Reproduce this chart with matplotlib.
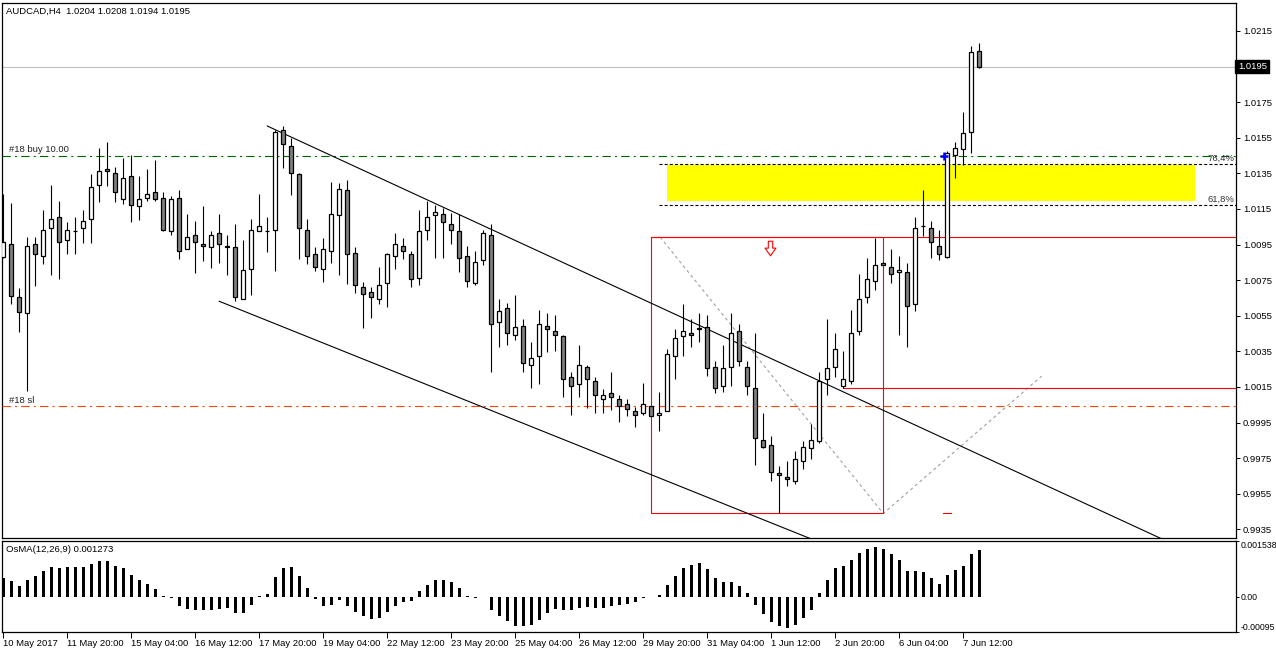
import numpy as np
import matplotlib
matplotlib.use("Agg")
import matplotlib.pyplot as plt
from matplotlib.patches import Rectangle
from matplotlib.path import Path
from matplotlib.transforms import blended_transform_factory

# ---- AUDCAD H4 candles (bar 0 = left edge) ----
OPEN = [1.00879, 1.00952, 1.00654, 1.00565, 1.00952, 1.00885, 1.01042, 1.01104, 1.00975, 1.01024,
        1.01042, 1.01093, 1.01284, 1.01374, 1.01352, 1.01206, 1.01335, 1.01166, 1.01211, 1.01245,
        1.01211, 1.01026, 1.01211, 1.00924, 1.01003, 1.00952, 1.00936, 1.01014, 1.00941, 1.00936,
        1.00643, 1.00812, 1.01026, 1.01026, 1.01031, 1.01593, 1.01504, 1.01346, 1.01031, 1.00896,
        1.00812, 1.00913, 1.01116, 1.01256, 1.00902, 1.00711, 1.00683, 1.00643, 1.00733, 1.00885,
        1.00941, 1.00896, 1.00761, 1.01031, 1.01116, 1.01121, 1.01065, 1.01026, 1.00885, 1.00733,
        1.00863, 1.01003, 1.00514, 1.00593, 1.00441, 1.00492, 1.00272, 1.00323, 1.00492, 1.00463,
        1.00435, 1.00205, 1.00165, 1.00261, 1.00182, 1.00081, 1.00115, 1.00081, 1.00053, 1.00014,
        1.00002, 1.00042, 0.99991, 1.00014, 1.00323, 1.00435, 1.00452, 1.00480, 1.00486, 1.00261,
        1.00154, 1.00261, 1.00463, 1.00261, 1.00143, 0.99851, 0.99822, 0.99665, 0.99643, 0.99620,
        0.99733, 0.99806, 0.99845, 1.00193, 1.00261, 1.00154, 1.00182, 1.00463, 1.00654, 1.00745,
        1.00846, 1.00823, 1.00795, 1.00795, 1.00615, 1.01054, 1.01042, 1.00941, 1.00879, 1.01453,
        1.01487, 1.01582, 1.02040]
HIGH = [1.01234, 1.01183, 1.00705, 1.00992, 1.00992, 1.01144, 1.01284, 1.01194, 1.01076, 1.01104,
        1.01144, 1.01346, 1.01492, 1.01526, 1.01385, 1.01436, 1.01453, 1.01335, 1.01374, 1.01425,
        1.01245, 1.01222, 1.01256, 1.01121, 1.01082, 1.01166, 1.01026, 1.01121, 1.01003, 1.01065,
        1.00975, 1.01093, 1.01234, 1.01104, 1.01593, 1.01616, 1.01548, 1.01352, 1.01093, 1.00936,
        1.00986, 1.01301, 1.01296, 1.01312, 1.00936, 1.00739, 1.00711, 1.00823, 1.00902, 1.01014,
        1.00986, 1.00913, 1.01144, 1.01194, 1.01172, 1.01155, 1.01127, 1.01121, 1.00941, 1.00913,
        1.01031, 1.01065, 1.00643, 1.00621, 1.00666, 1.00531, 1.00402, 1.00582, 1.00565, 1.00553,
        1.00441, 1.00233, 1.00385, 1.00272, 1.00205, 1.00137, 1.00233, 1.00104, 1.00081, 1.00036,
        1.00171, 1.00045, 1.00121, 1.00362, 1.00475, 1.00615, 1.00531, 1.00565, 1.00553, 1.00295,
        1.00385, 1.00565, 1.00503, 1.00295, 1.00452, 1.00002, 0.99873, 0.99704, 0.99733, 0.99789,
        0.99845, 0.99941, 1.00233, 1.00531, 1.00452, 1.00351, 1.00582, 1.00784, 1.00874, 1.00986,
        1.00850, 1.00924, 1.00885, 1.00846, 1.01104, 1.01256, 1.01082, 1.01031, 1.01475, 1.01526,
        1.01695, 1.02066, 1.02080]
LOW = [1.00874, 1.00615, 1.00458, 1.00126, 1.00716, 1.00840, 1.00778, 1.00756, 1.00896, 1.00896,
       1.00958, 1.00958, 1.01189, 1.01279, 1.01189, 1.01177, 1.01076, 1.01087, 1.01194, 1.01194,
       1.01026, 1.01003, 1.00868, 1.00924, 1.00790, 1.00857, 1.00818, 1.00846, 1.00778, 1.00632,
       1.00643, 1.00666, 1.01026, 1.00908, 1.00801, 1.01380, 1.01228, 1.00868, 1.00840, 1.00801,
       1.00739, 1.00846, 1.00778, 1.00728, 1.00677, 1.00480, 1.00537, 1.00615, 1.00598, 1.00812,
       1.00868, 1.00711, 1.00722, 1.00975, 1.00874, 1.00874, 1.00952, 1.00795, 1.00711, 1.00722,
       1.00834, 1.00233, 1.00373, 1.00385, 1.00413, 1.00233, 1.00143, 1.00165, 1.00345, 1.00351,
       1.00092, 0.99991, 1.00092, 1.00031, 1.00002, 1.00002, 1.00019, 0.99952, 0.99986, 0.99924,
       0.99991, 0.99986, 0.99901, 1.00014, 1.00193, 1.00323, 1.00373, 1.00402, 1.00210, 1.00115,
       1.00121, 1.00154, 1.00267, 1.00104, 0.99710, 0.99806, 0.99620, 0.99440, 0.99592, 0.99603,
       0.99688, 0.99744, 0.99834, 1.00104, 1.00205, 1.00143, 1.00165, 1.00441, 1.00621, 1.00694,
       1.00834, 1.00733, 1.00441, 1.00373, 1.00576, 1.00998, 1.00874, 1.00863, 1.00874, 1.01324,
       1.01397, 1.01464, 1.01940]
CLOSE = [1.00964, 1.00660, 1.00570, 1.00941, 1.00896, 1.01031, 1.01093, 1.00964, 1.01031, 1.01028,
         1.01082, 1.01273, 1.01363, 1.01363, 1.01245, 1.01324, 1.01172, 1.01206, 1.01234, 1.01206,
         1.01031, 1.01206, 1.00913, 1.00992, 1.00964, 1.00941, 1.01003, 1.00952, 1.00938, 1.00654,
         1.00806, 1.01031, 1.01054, 1.01028, 1.01582, 1.01515, 1.01352, 1.01042, 1.00885, 1.00823,
         1.00924, 1.01121, 1.01262, 1.00896, 1.00722, 1.00671, 1.00654, 1.00722, 1.00896, 1.00952,
         1.00913, 1.00756, 1.01026, 1.01104, 1.01132, 1.01076, 1.01031, 1.00874, 1.00745, 1.00851,
         1.01014, 1.00503, 1.00576, 1.00452, 1.00486, 1.00284, 1.00312, 1.00503, 1.00475, 1.00441,
         1.00193, 1.00154, 1.00272, 1.00193, 1.00104, 1.00104, 1.00092, 1.00042, 1.00025, 0.99991,
         1.00053, 0.99986, 1.00002, 1.00334, 1.00424, 1.00463, 1.00441, 1.00478, 1.00255, 1.00143,
         1.00255, 1.00452, 1.00295, 1.00154, 0.99862, 0.99811, 0.99671, 0.99654, 0.99631, 0.99744,
         0.99811, 0.99851, 1.00182, 1.00255, 1.00362, 1.00193, 1.00452, 1.00643, 1.00756, 1.00834,
         1.00834, 1.00784, 1.00806, 1.00604, 1.01042, 1.01052, 1.00964, 1.00896, 1.01464, 1.01492,
         1.01577, 1.02032, 1.01950]
OSMA = [0.00051, 0.00044, 0.00030, 0.00047, 0.00058, 0.00072, 0.00083, 0.00080, 0.00083, 0.00083,
        0.00083, 0.00089, 0.00097, 0.00099, 0.00085, 0.00080, 0.00060, 0.00047, 0.00036, 0.00022,
        0.00002, -0.00002, -0.00025, -0.00032, -0.00036, -0.00036, -0.00035, -0.00032, -0.00030, -0.00043,
        -0.00043, -0.00022, 0.00002, 0.00008, 0.00055, 0.00080, 0.00083, 0.00058, 0.00025, -0.00005,
        -0.00024, -0.00022, -0.00010, -0.00026, -0.00041, -0.00053, -0.00060, -0.00058, -0.00041, -0.00025,
        -0.00014, -0.00012, 0.00015, 0.00033, 0.00047, 0.00047, 0.00041, 0.00025, 0.00002, -0.00004,
        -0.00001, -0.00036, -0.00053, -0.00066, -0.00079, -0.00079, -0.00078, -0.00063, -0.00043, -0.00032,
        -0.00036, -0.00036, -0.00030, -0.00028, -0.00030, -0.00030, -0.00025, -0.00022, -0.00019, -0.00015,
        -0.00003, -0.00001, 0.00005, 0.00033, 0.00057, 0.00079, 0.00087, 0.00093, 0.00077, 0.00052,
        0.00041, 0.00041, 0.00030, 0.00011, -0.00022, -0.00047, -0.00068, -0.00079, -0.00085, -0.00077,
        -0.00057, -0.00035, 0.00011, 0.00047, 0.00079, 0.00085, 0.00101, 0.00120, 0.00131, 0.00136,
        0.00131, 0.00117, 0.00101, 0.00071, 0.00071, 0.00068, 0.00052, 0.00035, 0.00060, 0.00073,
        0.00085, 0.00117, 0.001273]

DATE_LABELS = ["10 May 2017", "11 May 20:00", "15 May 04:00", "16 May 12:00", "17 May 20:00",
               "19 May 04:00", "22 May 12:00", "23 May 20:00", "25 May 04:00", "26 May 12:00",
               "29 May 20:00", "31 May 04:00", "1 Jun 12:00", "2 Jun 20:00", "6 Jun 04:00",
               "7 Jun 12:00"]
BARS_PER_LABEL = 8
PRICE_TICKS = [1.0215, 1.0175, 1.0155, 1.0135, 1.0115, 1.0095, 1.0075, 1.0055, 1.0035,
               1.0015, 0.9995, 0.9975, 0.9955, 0.9935]
OSMA_TICKS = [0.001538, 0.0, -0.00095]
OSMA_TICK_LABELS = ["0.001538", "0.00", "-0.00095"]

# ---- objects drawn on the chart (bar index, price) ----
BUY_PRICE = 1.0145
SL_PRICE = 1.0004
LAST_PRICE = 1.0195
FIB_LEVELS = [(1.01402, "76,4%"), (1.01172, "61,8%")]
FIB_START = 82.0
ZONE_BARS = (82.96, 148.96)
ZONE_PRICES = (1.01194, 1.01397)
BOX_BARS = (81.0, 110.0)
BOX_PRICES = (0.99439, 1.00992)
RED_LEVEL = (105.0, 1.00143)
RED_DASH = (117.5, 118.5, 0.99439)
UPPER_CHANNEL = [(33.0, 1.01616), (144.0, 0.99313)]
LOWER_CHANNEL = [(27.0, 1.00631), (70.0, 0.99855)]
ZIGZAG_BARS = [82.1, 110.0, 129.8]
ZIGZAG_PRICES = [1.00992, 0.99439, 1.00211]
ENTRY_MARK = (117.65, 1.0145)
SIGNAL_ARROW = (95.8, 1.00930)

W, H = 1276, 652


def px_axes(fig, x0, y0, x1, y1):
    return fig.add_axes([x0 / W, 1 - y1 / H, (x1 - x0) / W, (y1 - y0) / H])


def ray(ax, pts, x_end, **kw):
    (xa, ya), (xb, yb) = pts
    slope = (yb - ya) / (xb - xa)
    ax.plot([xa, x_end], [ya, ya + slope * (x_end - xa)], **kw)


def main():
    plt.rcParams["font.family"] = ["Liberation Sans", "DejaVu Sans"]
    plt.rcParams["font.size"] = 6.8
    plt.rcParams["lines.scale_dashes"] = False

    o, h, l, c = (np.array(a) for a in (OPEN, HIGH, LOW, CLOSE))
    x = np.arange(len(o))
    xmax = 154.09

    fig = plt.figure(figsize=(W / 100, H / 100), dpi=100)
    ax = px_axes(fig, 2.5, 2.7, 1236, 538)
    ax2 = px_axes(fig, 2.5, 540.7, 1236, 631.5)

    # candles
    up = c >= o
    ax.vlines(x, l, h, color="black", lw=0.8, zorder=4)
    ax.bar(x, np.maximum(np.abs(c - o), 0.00001), bottom=np.minimum(o, c), width=0.55,
           color=np.where(up, "white", "#808080"), edgecolor="black", linewidth=0.9, zorder=5)

    # order levels
    dashdot = (0, (6, 3, 1.5, 3))
    ax.axhline(BUY_PRICE, color="#006400", lw=0.8, ls=dashdot, zorder=3)
    ax.axhline(SL_PRICE, color="#FF4500", lw=0.8, ls=dashdot, zorder=3)
    ax.axhline(LAST_PRICE, color="#C0C0C0", lw=0.8, zorder=2)
    ax.text(0.7, 1.01484, "#18 buy 10.00", va="center", ha="left", color="#222222")
    ax.text(0.7, 1.00076, "#18 sl", va="center", ha="left", color="#222222")

    # fibonacci zone
    ax.add_patch(Rectangle((ZONE_BARS[0], ZONE_PRICES[0]), ZONE_BARS[1] - ZONE_BARS[0],
                           ZONE_PRICES[1] - ZONE_PRICES[0], facecolor="#FFFF00",
                           edgecolor="none", zorder=1))
    for price, name in FIB_LEVELS:
        ax.plot([FIB_START, xmax], [price, price], color="black", lw=0.8,
                ls=(0, (2.2, 1.5)), zorder=3)
        ax.text(153.9, price + 0.00031, name, ha="right", va="center", color="#333333")

    # red box, levels
    ax.add_patch(Rectangle((BOX_BARS[0], BOX_PRICES[0]), BOX_BARS[1] - BOX_BARS[0],
                           BOX_PRICES[1] - BOX_PRICES[0], facecolor="none",
                           edgecolor="#FF0000", lw=0.8, zorder=3))
    ax.plot([BOX_BARS[0], xmax], [BOX_PRICES[1]] * 2, color="#FF0000", lw=0.8, zorder=3)
    ax.plot([RED_LEVEL[0], xmax], [RED_LEVEL[1]] * 2, color="#FF0000", lw=0.8, zorder=3)
    ax.plot(RED_DASH[:2], [RED_DASH[2]] * 2, color="#FF0000", lw=0.8, zorder=3)

    # channel and zigzag
    ray(ax, UPPER_CHANNEL, xmax, color="black", lw=0.8, zorder=3)
    ray(ax, LOWER_CHANNEL, xmax, color="black", lw=0.8, zorder=3)
    ax.plot(ZIGZAG_BARS, ZIGZAG_PRICES, color="#A0A0A0", lw=0.8, ls=(0, (2.2, 2.2)), zorder=2)

    # markers
    ax.plot(*ENTRY_MARK, marker="+", ms=6, mew=1.8, color="#0000FF", zorder=6)
    arrow = Path([(-0.3, 1), (0.3, 1), (0.3, 0.05), (0.75, 0.05), (0, -1), (-0.75, 0.05),
                  (-0.3, 0.05), (-0.3, 1)])
    ax.scatter(*SIGNAL_ARROW, marker=arrow, s=110, facecolor="white", edgecolor="#FF0000",
               linewidth=0.8, zorder=6)

    ax.set_xlim(-0.1, xmax)
    ax.set_ylim(0.99301, 1.02309)
    ax.yaxis.tick_right()
    ax.set_yticks(PRICE_TICKS)
    ax.set_yticklabels([f"{p:.4f}" for p in PRICE_TICKS])
    ax.tick_params(axis="y", length=3, width=0.7, pad=2)
    ax.tick_params(axis="x", bottom=False, labelbottom=False)
    trans = blended_transform_factory(ax.transAxes, ax.transData)
    ax.text(1.0015, LAST_PRICE, "1.0195", transform=trans, color="white", va="center",
            ha="left", bbox=dict(boxstyle="square,pad=0.25", fc="black", ec="black"))

    # OsMA histogram
    ax2.bar(x, OSMA, width=0.32, color="black")
    ax2.set_ylim(-0.00095, 0.001538)
    ax2.set_xlim(-0.1, xmax)
    ax2.yaxis.tick_right()
    ax2.set_yticks(OSMA_TICKS)
    ax2.set_yticklabels(OSMA_TICK_LABELS)
    ax2.tick_params(axis="y", length=2, width=0.7, pad=1.5, labelsize=6.3)
    yl = ax2.get_yticklabels()
    yl[0].set_va("top")
    yl[2].set_va("bottom")
    ax2.set_xticks(np.arange(len(DATE_LABELS)) * BARS_PER_LABEL)
    ax2.set_xticklabels(DATE_LABELS, ha="left")
    ax2.tick_params(axis="x", length=4, width=0.7, pad=1.5)

    for a in (ax, ax2):
        for s in a.spines.values():
            s.set_linewidth(0.9)

    fig.text(6 / W, 1 - 11 / H, "AUDCAD,H4  1.0204 1.0208 1.0194 1.0195", va="center", ha="left")
    fig.text(6 / W, 1 - 550 / H, "OsMA(12,26,9) 0.001273", va="center", ha="left")

    fig.savefig("out.png", dpi=100, facecolor="white")


if __name__ == "__main__":
    main()
